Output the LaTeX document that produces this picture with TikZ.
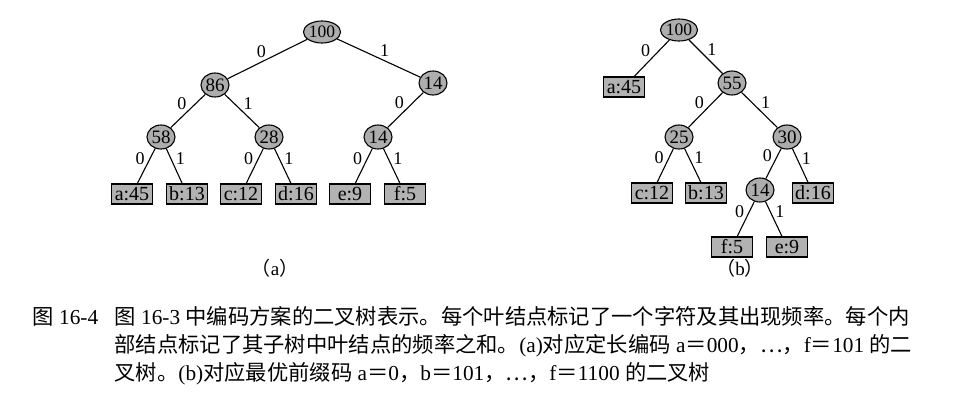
\documentclass[tikz,border=0pt]{standalone}
\usepackage{fontspec}
\setmainfont{Liberation Serif}
\newfontfamily\cjk{Noto Sans CJK SC}
\newcommand\zh[1]{{\cjk #1}}
\usetikzlibrary{positioning, quotes, shapes.geometric}

\begin{document}
\begin{tikzpicture}[x=1pt, y=-1pt,
sum/.style  = {ellipse, draw, fill=black!32, minimum width=28, minimum height=24, inner sep=0pt},
rootnode/.style = {sum, minimum width=37, minimum height=22, font=\fontsize{17.5}{18}\selectfont},
leaf/.style = {draw, fill=black!30, minimum width=41, minimum height=20, inner sep=0pt, font=\fontsize{20}{20}\selectfont},
every edge quotes/.style = {auto, inner sep=1pt, font=\fontsize{18}{18}\selectfont},
     font = \fontsize{19}{19}\selectfont,
     line width = 1.1pt
                        ]
\useasboundingbox (0,0) rectangle (960,400);
% (a) fixed-length code
\node (ar)  [rootnode] at (322,32)  {100};
\node (a86) [sum]      at (215,85)  {86};
\node (a14) [sum]      at (433,83)  {14};
\node (a58) [sum]      at (161,137) {58};
\node (a28) [sum]      at (269,137) {28};
\node (a14b)[sum]      at (378,137) {14};
\node (aa)  [leaf]     at (132,194) {a:45};
\node (ab)  [leaf]     at (187,194) {b:13};
\node (ac)  [leaf]     at (241,194) {c:12};
\node (ad)  [leaf]     at (296,194) {d:16};
\node (ae)  [leaf]     at (350,194) {e:9};
\node (af)  [leaf]     at (405,194) {f:5};
%
\draw (ar)  to["0"'] (a86)   (ar)  to["1"] (a14)
      (a86) to["0"'] (a58)   (a86) to["1"] (a28)
      (a14) to["0"'] (a14b)
      (a58) to["0"'] (aa)    (a58) to["1"] (ab)
      (a28) to["0"'] (ac)    (a28) to["1"] (ad)
      (a14b)to["0"'] (ae)    (a14b)to["1"] (af);
\node (capa) [font=\fontsize{19}{19}\selectfont] at (275,268) {\zh{（}a\zh{）}};
% (b) optimal prefix code
\node (br)  [rootnode] at (679,30)  {100};
\node (ba)  [leaf]     at (624,87)  {a:45};
\node (b55) [sum]      at (732,83)  {55};
\node (b25) [sum]      at (679,137) {25};
\node (b30) [sum]      at (787,137) {30};
\node (bc)  [leaf]     at (652,193) {c:12};
\node (bb)  [leaf]     at (706,193) {b:13};
\node (b14) [sum]      at (760,190) {14};
\node (bd)  [leaf]     at (813,193) {d:16};
\node (bf)  [leaf]     at (732,247) {f:5};
\node (be)  [leaf]     at (787,247) {e:9};
%
\draw (br)  to["0"'] (ba)    (br)  to["1"] (b55)
      (b55) to["0"'] (b25)   (b55) to["1"] (b30)
      (b25) to["0"'] (bc)    (b25) to["1"] (bb)
      (b30) to["0"'] (b14)   (b30) to["1"] (bd)
      (b14) to["0"'] (bf)    (b14) to["1"] (be);
\node (capb) [font=\fontsize{19}{19}\selectfont] at (740,268) {\zh{（}b\zh{）}};
% caption
\node (fig) [anchor=west, inner sep=0pt, font=\fontsize{21.3}{21.3}\selectfont] at (32,317) {\zh{图} 16-4};
\node (cap) [anchor=north west, align=left, inner sep=0pt, font=\fontsize{21.3}{28}\selectfont] at (114,306)
  {\zh{图} 16-3 \zh{中编码方案的二叉树表示。每个叶结点标记了一个字符及其出现频率。每个内}\\
   \zh{部结点标记了其子树中叶结点的频率之和。}(a)\zh{对应定长编码} a\zh{＝}000\zh{，…，}f\zh{＝}101 \zh{的二}\\
   \zh{叉树。}(b)\zh{对应最优前缀码} a\zh{＝}0\zh{，}b\zh{＝}101\zh{，…，}f\zh{＝}1100 \zh{的二叉树}};
\end{tikzpicture}
\end{document}
